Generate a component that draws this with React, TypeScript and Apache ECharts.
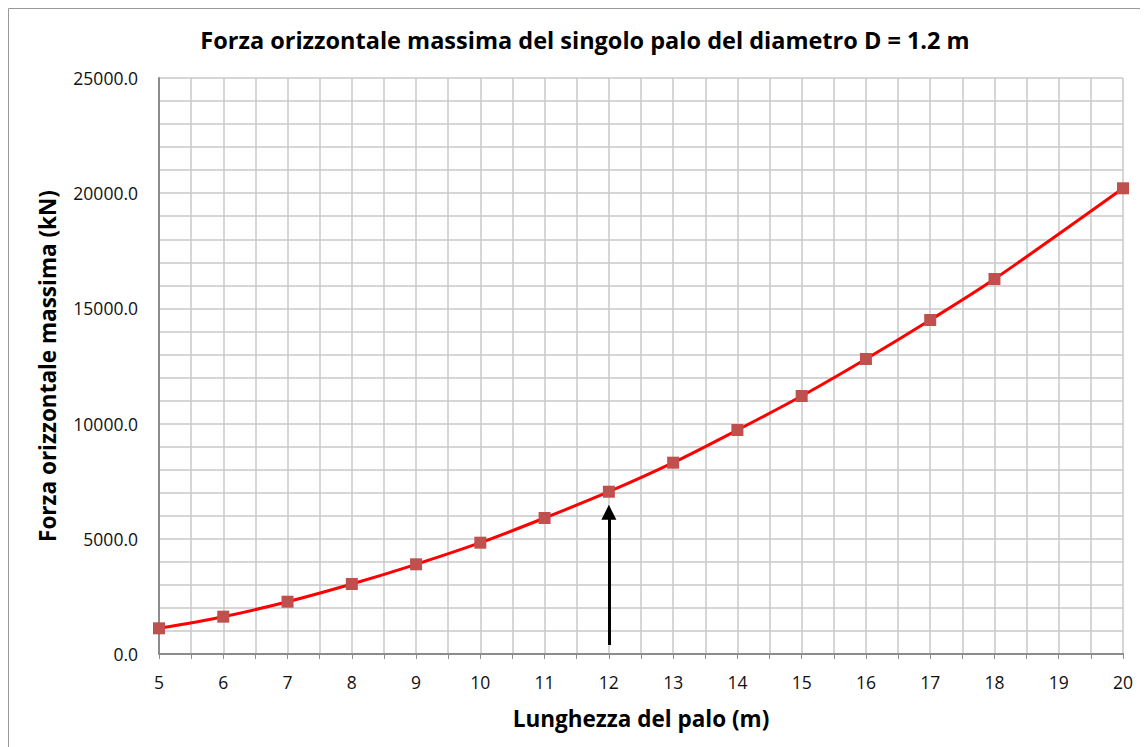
import React, { useEffect, useRef } from "react";
import * as echarts from "echarts";

const title = "Forza orizzontale massima del singolo palo del diametro D = 1.2 m";
const xName = "Lunghezza del palo (m)";
const yName = "Forza orizzontale massima (kN)";
const lengths = [5, 6, 7, 8, 9, 10, 11, 12, 13, 14, 15, 16, 17, 18, 20];
const forces = [1115, 1620, 2270, 3038, 3893, 4831, 5903, 7044, 8304, 9722, 11198, 12804, 14497, 16276, 20213];
const arrowFrom = [12, 390];
const arrowTo = [12, 6150];

export default function App() {
  const ref = useRef<HTMLDivElement>(null);
  useEffect(() => {
    if (!ref.current) return;
    const chart = echarts.init(ref.current, null, { renderer: "svg" });
    const font = "'Open Sans', 'Noto Sans', sans-serif";
    chart.setOption({
      animation: false,
      backgroundColor: "#ffffff",
      textStyle: { fontFamily: font },
      title: {
        text: title,
        left: 572,
        top: 15,
        textAlign: "center",
        textStyle: { fontFamily: font, fontSize: 23.5, fontWeight: "bold", color: "#000" },
      },
      graphic: [
        {
          type: "rect",
          shape: { x: 0.5, y: 0.5, width: 1300, height: 900 },
          style: { fill: "none", stroke: "#999", lineWidth: 1 },
          silent: true,
        },
      ],
      grid: { left: 151, right: 25, top: 70, bottom: 93, containLabel: false },
      xAxis: {
        type: "value",
        min: 5,
        max: 20,
        interval: 1,
        name: xName,
        nameLocation: "middle",
        nameGap: 53,
        nameTextStyle: { fontFamily: font, fontSize: 22.5, fontWeight: "bold", color: "#000" },
        axisLine: { show: true, lineStyle: { color: "#8c8c8c", width: 2 } },
        axisTick: { show: true, length: 5, lineStyle: { color: "#8c8c8c", width: 1 } },
        minorTick: { show: true, splitNumber: 2, length: 5, lineStyle: { color: "#8c8c8c", width: 1 } },
        splitLine: { show: true, lineStyle: { color: "#c8c8c8", width: 1.5 } },
        minorSplitLine: { show: true, lineStyle: { color: "#c8c8c8", width: 1.5 } },
        axisLabel: { fontFamily: font, fontSize: 17.5, color: "#111", margin: 19 },
      },
      yAxis: {
        type: "value",
        min: 0,
        max: 25000,
        interval: 5000,
        name: yName,
        nameLocation: "middle",
        nameGap: 100,
        nameTextStyle: { fontFamily: font, fontSize: 22.5, fontWeight: "bold", color: "#000" },
        axisLine: { show: true, lineStyle: { color: "#8c8c8c", width: 2 } },
        axisTick: { show: false },
        minorTick: { show: false, splitNumber: 5 },
        splitLine: { show: true, lineStyle: { color: "#c8c8c8", width: 1.5 } },
        minorSplitLine: { show: true, lineStyle: { color: "#c8c8c8", width: 1.5 } },
        axisLabel: {
          fontFamily: font,
          fontSize: 17.5,
          color: "#111",
          margin: 21,
          formatter: (v: number) => v.toFixed(1),
        },
      },
      series: [
        {
          type: "line",
          data: lengths.map((x, i) => [x, forces[i]]),
          smooth: 0.3,
          symbol: "rect",
          symbolSize: 12,
          showAllSymbol: true,
          lineStyle: { color: "#ff0000", width: 3 },
          itemStyle: { color: "#c0504d", borderWidth: 0 },
          z: 3,
          markLine: {
            silent: true,
            symbol: ["none", "triangle"],
            symbolSize: [15, 15],
            label: { show: false },
            lineStyle: { color: "#000", width: 3, type: "solid" },
            data: [[{ coord: arrowFrom }, { coord: arrowTo }]],
          },
        },
      ],
    });
    return () => chart.dispose();
  }, []);
  return <div ref={ref} style={{ width: 1140, height: 739 }} />;
}
